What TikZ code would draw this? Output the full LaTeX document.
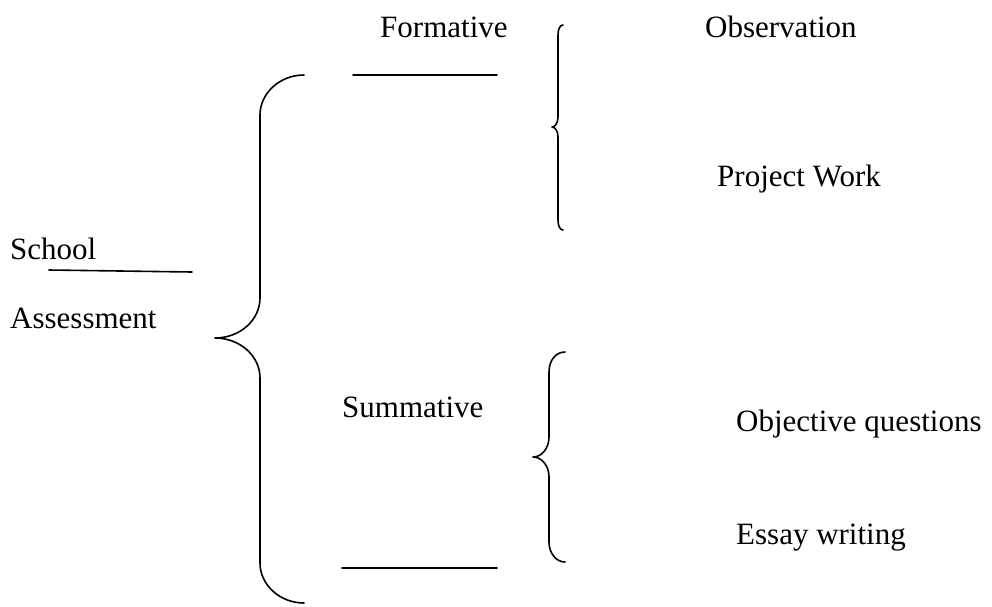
\documentclass[tikz,border=0pt]{standalone}
\usepackage{fontspec}
\setmainfont{Liberation Serif}
\begin{document}
\begin{tikzpicture}[x=1pt,y=-1pt,
  lbl/.style={anchor=base west,inner sep=0pt,font=\fontsize{31}{37}\selectfont},
  stroke/.style={line width=1.6pt,line cap=round,line join=round}]
\useasboundingbox[fill=white] (0,0) rectangle (992,606);

% labels
\node[lbl] (school) at (10,259) {School};
\node[lbl] (assess) at (10,328) {Assessment};
\node[lbl] (form)   at (380,37) {Formative};
\node[lbl] (summ)   at (342,417) {Summative};
\node[lbl] (obs)    at (705,37) {Observation};
\node[lbl] (proj)   at (717,186) {Project Work};
\node[lbl] (objq)   at (736,431) {Objective questions};
\node[lbl] (essay)  at (736,544) {Essay writing};

% underlines
\coordinate (sl1) at (49,270);  \coordinate (sl2) at (192,272);
\coordinate (fl1) at (353,75);  \coordinate (fl2) at (497,75);
\coordinate (ml1) at (342,568); \coordinate (ml2) at (497,568);
\draw[stroke] (sl1) -- (sl2);
\draw[stroke] (fl1) -- (fl2);
\draw[stroke] (ml1) -- (ml2);

% main brace
\draw[stroke] (304,75) .. controls (280,75) and (260,93) .. (260,115)
  -- (260,298) .. controls (260,320) and (240,338) .. (215,338)
  .. controls (240,338) and (260,356) .. (260,378)
  -- (260,563) .. controls (260,585) and (280,603) .. (304,603);

% brace for the formative methods
\draw[stroke] (563,25) .. controls (560,25) and (558,29) .. (558,35)
  -- (558,117) .. controls (558,123) and (555,127) .. (552,127)
  .. controls (555,127) and (558,131) .. (558,137)
  -- (558,220) .. controls (558,226) and (560,230) .. (563,230);

% brace for the summative methods
\draw[stroke] (565,352) .. controls (556,352) and (549,360) .. (549,372)
  -- (549,437) .. controls (549,448) and (542,457) .. (533,457)
  .. controls (542,457) and (549,466) .. (549,477)
  -- (549,542) .. controls (549,553) and (556,562) .. (565,562);
\end{tikzpicture}
\end{document}
